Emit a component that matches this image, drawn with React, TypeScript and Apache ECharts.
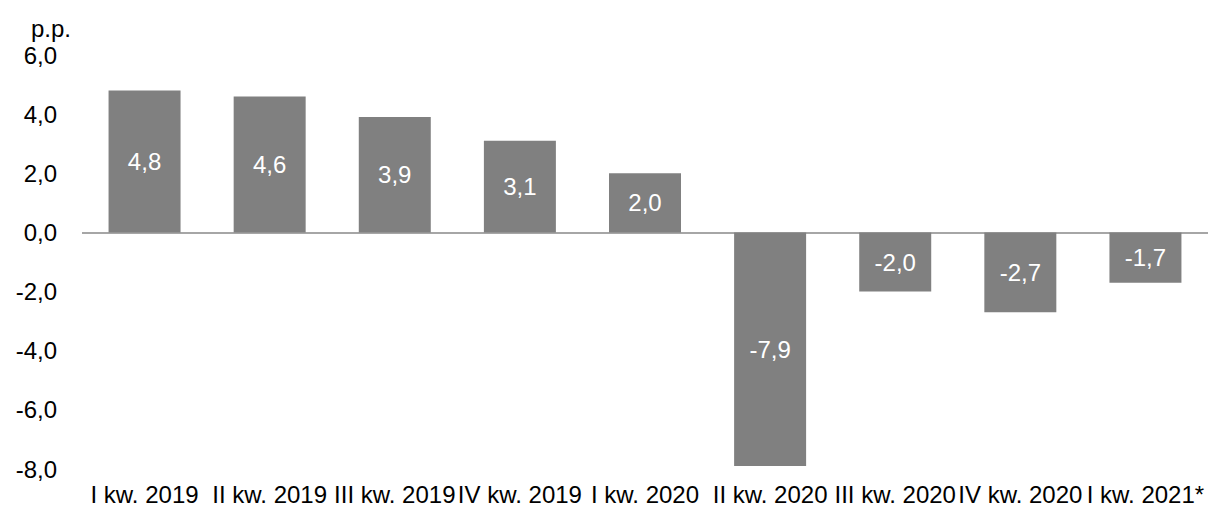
import React, { useEffect, useRef } from "react";
import * as echarts from "echarts";

const categories = [
  "I kw. 2019",
  "II kw. 2019",
  "III kw. 2019",
  "IV kw. 2019",
  "I kw. 2020",
  "II kw. 2020",
  "III kw. 2020",
  "IV kw. 2020",
  "I kw. 2021*",
];
const values = [4.8, 4.6, 3.9, 3.1, 2.0, -7.9, -2.0, -2.7, -1.7];
const unitLabel = "p.p.";
const yMin = -8;
const yMax = 6;
const yStep = 2;

const fmt = (v: number) => v.toFixed(1).replace(".", ",");
const FONT = "Liberation Sans, Arial, sans-serif";

export default function App() {
  const ref = useRef<HTMLDivElement>(null);
  useEffect(() => {
    if (!ref.current) return;
    const chart = echarts.init(ref.current, undefined, { renderer: "svg" });
    chart.setOption({
      animation: false,
      title: {
        text: unitLabel,
        left: 26,
        top: 11,
        textStyle: { fontFamily: FONT, fontSize: 24, fontWeight: "normal", color: "#000" },
      },
      grid: { left: 82, right: 0, top: 55, bottom: 40, containLabel: false },
      xAxis: {
        type: "category",
        data: categories,
        axisLine: { show: false, onZero: false },
        axisTick: { show: false },
        axisLabel: {
          interval: 0,
          margin: 13,
          fontFamily: FONT,
          fontSize: 24,
          color: "#000",
        },
      },
      yAxis: {
        type: "value",
        min: yMin,
        max: yMax,
        interval: yStep,
        axisLine: { show: false },
        axisTick: { show: false },
        splitLine: { show: false },
        axisLabel: {
          margin: 25,
          fontFamily: FONT,
          fontSize: 24,
          color: "#000",
          formatter: (v: number) => fmt(v),
        },
      },
      series: [
        {
          type: "bar",
          data: values,
          barWidth: 72,
          itemStyle: { color: "#808080" },
          label: {
            show: true,
            position: "inside",
            color: "#fff",
            fontFamily: FONT,
            fontSize: 24,
            formatter: (p: any) => fmt(p.value),
          },
          markLine: {
            silent: true,
            symbol: "none",
            label: { show: false },
            lineStyle: { color: "#a6a6a6", width: 2, type: "solid" },
            data: [{ yAxis: 0 }],
            z: 1,
          },
        },
      ],
    });
    return () => chart.dispose();
  }, []);
  return (
    <div
      ref={ref}
      style={{ position: "absolute", left: 0, top: 0, width: 1208, height: 509, background: "#fff" }}
    />
  );
}
